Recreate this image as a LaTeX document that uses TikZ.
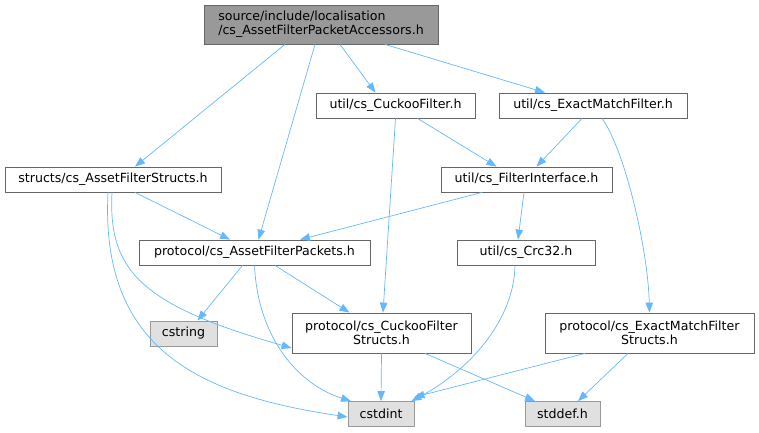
\documentclass[tikz,border=0pt]{standalone}
\usepackage{fontspec}
\setmainfont{DejaVu Sans}
\usetikzlibrary{arrows.meta}
\definecolor{edgeblue}{HTML}{63B8FF}
\definecolor{rootfill}{HTML}{999999}
\definecolor{boxline}{HTML}{666666}
\definecolor{sysfill}{HTML}{E0E0E0}
\definecolor{sysline}{HTML}{999999}
\tikzset{
    header/.style={
        rectangle, draw=boxline, fill=white, line width=0.8pt,
        font=\fontsize{12.6}{14}\selectfont, align=center,
        inner sep=0pt, minimum height=25pt
    },
    rootheader/.style={
        header, fill=rootfill, align=left, minimum height=39pt
    },
    sysheader/.style={
        header, draw=sysline, fill=sysfill
    },
    incl/.style={
        -{Triangle[length=10pt,width=7.5pt]}, line width=0.7pt, draw=edgeblue
    }
}

\begin{document}
\begin{tikzpicture}[x=1pt, y=-1pt]
      \useasboundingbox (0,0) rectangle (759,432);

      \node[rootheader, minimum width=234pt] (root) at (321,24.5) {source/include/localisation\\/cs\_AssetFilterPacketAccessors.h};

      \node[header, minimum width=159pt] (cuckoo) at (395.5,105.5) {util/cs\_CuckooFilter.h};
      \node[header, minimum width=188pt] (exact) at (593,105.5) {util/cs\_ExactMatchFilter.h};
      \node[header, minimum width=216pt] (structs) at (113,179.5) {structs/cs\_AssetFilterStructs.h};
      \node[header, minimum width=171pt] (iface) at (526.5,179.5) {util/cs\_FilterInterface.h};
      \node[header, minimum width=231pt] (packets) at (254.5,252.5) {protocol/cs\_AssetFilterPackets.h};
      \node[header, minimum width=138pt] (crc) at (526,252.5) {util/cs\_Crc32.h};
      \node[header, minimum width=179pt, minimum height=40pt] (cstructs) at (381.5,333) {protocol/cs\_CuckooFilter\\Structs.h};
      \node[header, minimum width=209pt, minimum height=40pt] (estructs) at (649.5,333) {protocol/cs\_ExactMatchFilter\\Structs.h};

      \node[sysheader, minimum width=67pt] (cstring) at (183.5,333.5) {cstring};
      \node[sysheader, minimum width=66pt] (cstdint) at (381,414) {cstdint};
      \node[sysheader, minimum width=75pt] (stddef) at (562.5,414) {stddef.h};

      \draw[incl] ([xshift=-36pt]root.south) -- ([xshift=22pt]structs.north);
      \draw[incl] ([xshift=-6pt]root.south) -- ([xshift=4pt]packets.north);
      \draw[incl] ([xshift=19pt]root.south) -- ([xshift=-20pt]cuckoo.north);
      \draw[incl] ([xshift=64pt]root.south) -- ([xshift=-48pt]exact.north);

      \draw[incl] ([xshift=22pt]cuckoo.south) -- ([xshift=-30pt]iface.north);
      \draw[incl] (cuckoo.south) -- ([xshift=1.5pt]cstructs.north);
      \draw[incl] ([xshift=-11pt]exact.south) -- ([xshift=10pt]iface.north);
      \draw[incl] ([xshift=9pt]exact.south) .. controls (625,150) and (648,250) .. (estructs.north);

      \draw[incl] ([xshift=22pt]structs.south) -- ([xshift=-24.5pt]packets.north);
      \draw[incl] ([xshift=-5pt]structs.south) .. controls (100,350) and (200,395) .. ([yshift=-3pt]cstdint.west);
      \draw[incl] ([xshift=-1pt]structs.south) .. controls (108,270) and (140,305) .. ([yshift=-15pt]cstructs.west);

      \draw[incl] ([xshift=-44.5pt]iface.south) -- ([xshift=45.5pt]packets.north);
      \draw[incl] ([xshift=-2.5pt]iface.south) -- ([xshift=-8pt]crc.north);

      \draw[incl] ([xshift=-12pt]packets.south) -- ([xshift=14pt]cstring.north);
      \draw[incl] (packets.south) .. controls (258,340) and (300,385) .. ([xshift=-30pt]cstdint.north);
      \draw[incl] ([xshift=20.5pt]packets.south) -- ([xshift=-32pt]cstructs.north);

      \draw[incl] ([xshift=-11pt]crc.south) .. controls (514,320) and (470,370) .. ([xshift=-3pt]cstdint.north east);

      \draw[incl] (cstructs.south) -- (cstdint.north);
      \draw[incl] ([xshift=43.5pt]cstructs.south) -- ([xshift=-27.5pt]stddef.north);
      \draw[incl] ([xshift=-64.5pt]estructs.south) -- ([yshift=4pt]cstdint.north east);
      \draw[incl] ([xshift=-21.5pt]estructs.south) -- ([xshift=15.5pt]stddef.north);
\end{tikzpicture}
\end{document}
